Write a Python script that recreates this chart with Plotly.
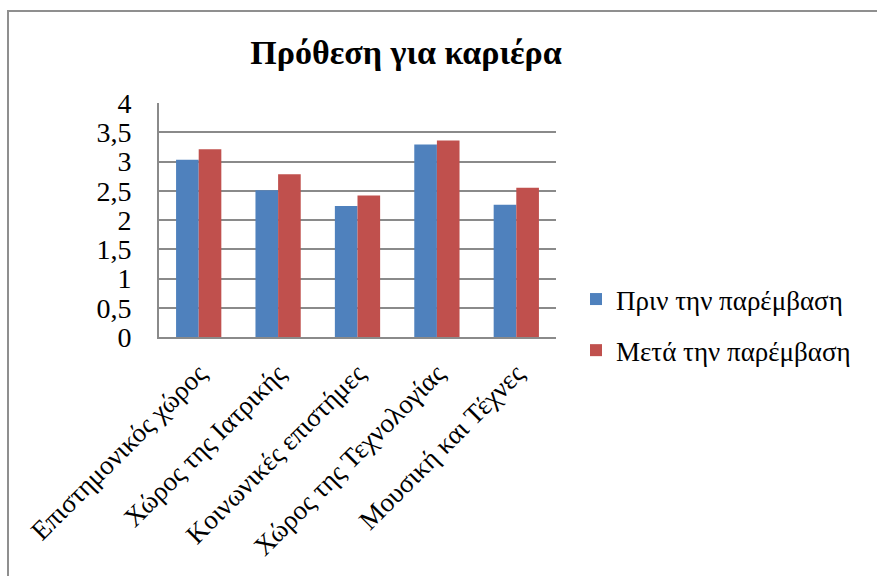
import plotly.graph_objects as go

# Career-intention survey: mean scores before and after the intervention
categories = [
    "Επιστημονικός χώρος",
    "Χώρος της Ιατρικής",
    "Κοινωνικές επιστήμες",
    "Χώρος της Τεχνολογίας",
    "Μουσική και Τέχνες",
]
before = [3.03, 2.51, 2.24, 3.29, 2.26]
after = [3.21, 2.78, 2.42, 3.36, 2.55]
series_names = ["Πριν την παρέμβαση", "Μετά την παρέμβαση"]
title_text = "Πρόθεση για καριέρα"

W, H = 877, 576
L, R, T, B = 159, 321, 103, 239
plot_w = W - L - R
plot_h = H - T - B

serif = "Liberation Serif, Times New Roman, serif"
grid_col = "#8a8a8a"

fig = go.Figure()
fig.add_trace(go.Bar(x=categories, y=before, name=series_names[0],
                     marker=dict(color="#4F81BD", line=dict(width=0)),
                     legendgroup="a"))
fig.add_trace(go.Bar(x=categories, y=after, name=series_names[1],
                     marker=dict(color="#C0504D", line=dict(width=0)),
                     legendgroup="b"))


def px_x(p):
    return (p - L) / plot_w


def px_y(p):
    return (H - B - p) / plot_h


# outer chart frame (left and top edges visible)
fig.add_shape(type="rect", xref="paper", yref="paper",
              x0=px_x(8), x1=px_x(W + 20), y0=px_y(H + 20), y1=px_y(11),
              line=dict(color="#8f8f8f", width=2), fillcolor="rgba(0,0,0,0)",
              layer="below")

fig.update_layout(
    width=W, height=H,
    margin=dict(l=L, r=R, t=T, b=B),
    paper_bgcolor="white", plot_bgcolor="white",
    separators=",.",
    barmode="group", bargap=0.43, bargroupgap=0,
    title=dict(text="<b>" + title_text + "</b>", x=406 / W, xanchor="center",
               xref="container", yref="container", y=1 - 52 / H,
               yanchor="middle",
               font=dict(family=serif, size=34, color="black")),
    legend=dict(x=px_x(576), xanchor="left", y=px_y(275), yanchor="top",
                font=dict(family=serif, size=27, color="black"),
                traceorder="grouped", tracegroupgap=13,
                bgcolor="rgba(0,0,0,0)"),
    showlegend=True,
)
fig.update_xaxes(showgrid=False, showline=True, linecolor=grid_col, linewidth=2,
                 tickangle=-45, ticks="", ticklabelstandoff=8,
                 tickfont=dict(family=serif, size=27, color="black"))
fig.update_yaxes(range=[0, 4], dtick=0.5, tick0=0, showgrid=True,
                 gridcolor=grid_col, gridwidth=2, showline=True,
                 linecolor=grid_col, linewidth=2, zeroline=False,
                 ticks="", ticklabelstandoff=20,
                 tickfont=dict(family=serif, size=28, color="black"))

fig.write_html("out.html")
